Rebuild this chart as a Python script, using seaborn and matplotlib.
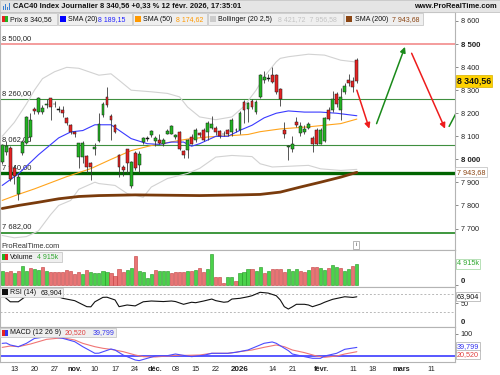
import numpy as np
import matplotlib
matplotlib.use("Agg")
import matplotlib.pyplot as plt
import matplotlib.transforms as mtrans
from matplotlib.patches import Rectangle
import seaborn as sns

# ---------------- data ----------------
opens = [7988, 8032, 8050, 7962, 7851, 8027, 8071, 8097, 8217, 8204,
         8204, 8235, 8265, 8240, 8218, 8213, 8178, 8148, 8119, 8009,
         8010, 8013, 7983, 8043, 8080, 8191, 8271, 8187, 8148, 8017,
         7967, 8043, 7883, 8026, 7974, 8075, 8088, 8104, 8078, 8083,
         8065, 8112, 8112, 8097, 8119, 8036, 8042, 8097, 8083, 8115,
         8126, 8119, 8138, 8135, 8122, 8110, 8126, 8119, 8128, 8126,
         8249, 8217, 8253, 8206, 8271, 8343, 8352, 8365, 8365, 8303,
         8126, 8052, 8046, 8162, 8114, 8120, 8138, 8094, 8126, 8068,
         8080, 8216, 8216, 8285, 8213, 8293, 8346, 8341, 8433]
highs = [8065, 8080, 8060, 7975, 7935, 8082, 8190, 8200, 8225, 8272,
         8235, 8260, 8268, 8252, 8230, 8230, 8185, 8152, 8125, 8072,
         8080, 8020, 7990, 8070, 8200, 8250, 8314, 8195, 8155, 8025,
         7975, 8045, 7995, 8035, 8035, 8095, 8100, 8126, 8100, 8110,
         8091, 8130, 8150, 8108, 8122, 8039, 8090, 8110, 8135, 8120,
         8135, 8165, 8190, 8145, 8128, 8122, 8132, 8178, 8134, 8210,
         8256, 8250, 8262, 8256, 8372, 8385, 8370, 8400, 8370, 8308,
         8160, 8062, 8100, 8183, 8160, 8150, 8160, 8100, 8135, 8135,
         8185, 8225, 8296, 8293, 8310, 8330, 8370, 8355, 8440]
lows = [7980, 8020, 7905, 7895, 7822, 8020, 8065, 8080, 8195, 8198,
        8198, 8222, 8170, 8228, 8205, 8185, 8150, 8110, 8095, 7961,
        7985, 7939, 7909, 8020, 8075, 8185, 8227, 8083, 8113, 7923,
        7930, 7940, 7874, 7955, 7940, 8065, 8080, 8098, 8060, 8065,
        8060, 8108, 8108, 8090, 8040, 8004, 8004, 8065, 8075, 8098,
        8078, 8085, 8130, 8105, 8092, 8100, 8100, 8100, 8120, 8110,
        8157, 8160, 8220, 8195, 8265, 8330, 8340, 8330, 8285, 8230,
        8091, 7996, 8030, 8140, 8100, 8110, 8130, 8030, 8062, 8065,
        8075, 8170, 8205, 8225, 8170, 8285, 8320, 8290, 8330]
closes = [8061, 8058, 7917, 7930, 7923, 8075, 8184, 8172, 8209, 8265,
          8221, 8240, 8226, 8238, 8216, 8200, 8157, 8119, 8109, 8070,
          8071, 7965, 7965, 8053, 8152, 8239, 8235, 8170, 8119, 7967,
          7952, 7983, 7990, 7961, 8022, 8091, 8090, 8122, 8093, 8071,
          8086, 8122, 8143, 8104, 8046, 8020, 8083, 8068, 8126, 8104,
          8083, 8157, 8152, 8119, 8100, 8108, 8109, 8170, 8126, 8200,
          8213, 8243, 8227, 8249, 8365, 8359, 8350, 8336, 8293, 8260,
          8109, 8057, 8065, 8148, 8143, 8130, 8152, 8065, 8065, 8126,
          8178, 8177, 8260, 8239, 8271, 8320, 8329, 8314, 8340.56]
volumes_k = [3354, 3120, 3354, 2886, 3354, 4524, 3354, 3900, 3666, 3510,
             4134, 3354, 2964, 2964, 3120, 2964, 3510, 3354, 2574, 2964,
             2574, 3510, 2964, 2730, 2730, 3354, 3120, 2886, 2184, 3744,
             3120, 3510, 3900, 6786, 3354, 2964, 1716, 2574, 3510, 3198,
             3198, 3198, 2730, 2964, 2964, 3120, 3354, 3354, 3510, 3900,
             3120, 3666, 7254, 1950, 1794, 546, 1950, 1794, 936, 2730,
             3120, 3666, 3666, 3276, 4134, 2886, 3354, 3744, 3744, 3744,
             2964, 3744, 3354, 3666, 3354, 3120, 3510, 4134, 4134, 3900,
             3510, 4056, 4680, 4290, 3900, 3354, 3744, 4446, 4915]
vol_dir = ("GRRGRGGRGG" "RGRRRRRRRR" "GRGGGGGRRR" "RGGRGGGGRG" "GGRRRRGRGR"
           "RGGRRRGGRG" "GGRGGRGRRR" "RGGGRRGRRG" "GRGGRGGRG")

sma20_idx = [0, 4, 9, 14, 17, 20, 23, 27, 29, 32, 36, 39, 42, 45, 47, 49, 53, 56, 59, 62, 65, 68, 71, 75, 79, 83, 88]
sma20_val = [7887, 7937, 8020, 8093, 8119, 8125, 8150, 8150, 8126, 8090, 8068, 8065, 8075, 8075, 8057, 8068,
             8100, 8100, 8126, 8148, 8180, 8200, 8210, 8205, 8205, 8200, 8189.15]
sma50_idx = [0, 4, 8, 16, 22, 27, 32, 37, 42, 46, 51, 56, 61, 64, 69, 76, 84, 88]
sma50_val = [7822, 7848, 7872, 7925, 7960, 8000, 8038, 8060, 8076, 8088, 8097, 8102, 8108, 8120, 8132, 8141, 8155, 8174.62]
sma200_idx = [0, 4, 9, 14, 19, 24, 33, 49, 59, 64, 69, 74, 79, 84, 88]
sma200_val = [7787, 7800, 7814, 7829, 7839, 7843, 7846, 7843, 7846, 7848, 7858, 7880, 7901, 7923, 7943.68]
bb_up_idx = [0, 3, 6, 8, 10, 13, 16, 19, 23, 24, 27, 29, 32, 37, 41, 44, 46, 49, 53, 57, 60, 63, 65, 68, 69, 71, 76, 80, 84, 88]
bb_up_val = [8100, 8160, 8240, 8300, 8350, 8380, 8399, 8395, 8371, 8365, 8371, 8343, 8300, 8293, 8286, 8271, 8227, 8184,
             8172, 8184, 8230, 8300, 8358, 8423, 8438, 8445, 8456, 8452, 8430, 8421.72]
bb_lo_idx = [0, 3, 6, 9, 12, 14, 17, 19, 23, 24, 28, 31, 35, 37, 41, 46, 49, 53, 57, 62, 64, 67, 71, 76, 79, 84, 88]
bb_lo_val = [7670, 7660, 7665, 7690, 7760, 7800, 7822, 7870, 7901, 7895, 7887, 7852, 7836, 7880, 7917, 7939, 7961,
             8010, 8017, 8012, 7981, 7967, 7970, 7974, 7959, 7952, 7956.58]

rsi_idx = [0, 2, 4, 6, 9, 12, 15, 18, 19, 21, 22, 23, 25, 26, 28, 29, 31, 33, 35, 37, 40, 42, 43, 45, 47, 48, 50,
           52, 53, 55, 56, 57, 59, 61, 62, 64, 66, 68, 69, 70, 71, 72, 73, 75, 76, 77, 79, 80, 82, 85, 87, 88]
rsi_val = [67.8, 53, 53, 66, 70, 70, 60.6, 55.4, 51, 42.3, 42, 53, 62.7, 63, 57, 42.3, 46, 44, 53, 54.7, 53.5, 54.7,
           53.5, 47.5, 52, 51, 54.7, 59, 55.5, 52, 53, 59, 60.6, 64, 66.3, 73.7, 72, 66.3, 57, 42.3, 37.2, 42, 47.5,
           47.5, 46, 42.3, 48, 52, 58.4, 64, 62.5, 63.904]
macd_idx = [0, 1, 2, 4, 6, 8, 11, 13, 15, 18, 20, 23, 24, 27, 28, 30, 33, 34, 36, 38, 41, 43, 45, 47, 50, 52, 56,
            58, 61, 62, 65, 67, 68, 71, 72, 75, 77, 79, 80, 83, 85, 88]
macd_val = [58, 59.6, 50.7, 43, 58, 80, 88, 86, 80.6, 65.5, 43, 13.4, 14, 32.7, 28, 5.8, -16.6, -19.5, -9, 1.3,
            2.8, 10.3, 4, -1.6, 4.3, 13.4, 13.4, 17.9, 28.3, 35.8, 58.3, 64.3, 58.3, 25.4, 10.3, -1.6, -9, -9, 1.3,
            13.4, 31.3, 39.799]
signal_idx = [0, 2, 4, 7, 11, 15, 18, 20, 23, 25, 27, 30, 33, 35, 38, 41, 43, 46, 49, 52, 56, 59, 62, 65, 68, 70,
              72, 75, 78, 80, 83, 85, 88]
signal_val = [40, 46, 43, 55, 76, 83, 73, 58, 43, 35.8, 31, 20.9, 5.8, -1.6, -3, 1.3, 4.3, 4.3, 5.8, 13.4, 13.4,
              20.9, 28.3, 40.3, 50.7, 43, 28.3, 16.4, 1.3, -4.6, 1.3, 10.3, 20.52]

levels = [8500, 8260, 8062, 7940, 7682]
level_labels = ["8 500,00", "8 260,00", "8 062,00", "7 940,00", "7 682,00"]
# arrows drawn on chart: (start index, start price, end index, end price, colour)
arrows = [(88, 8300, 91.1, 8133, "#ee1c1c"), (92.9, 8155, 99.95, 8488, "#1a8a1a"),
          (101.6, 8460, 109.9, 8133, "#ee1c1c")]
arrow_tail = (110.9, 8143, 112.8, 8206)

xtick_pos = [3, 8, 13, 18, 23, 28, 33, 38, 43, 48, 53, 59, 67, 72, 79.2, 87, 92, 99, 106.4]
xtick_lab = ["13", "20", "27", "nov.", "10", "17", "24", "déc.", "08", "15", "22", "2026",
             "14", "21", "févr.", "11", "18", "mars", "11"]
price_ticks = [7700, 7800, 7900, 8000, 8100, 8200, 8300, 8400, 8500, 8600]

# ---------------- style / layout ----------------
sns.set_theme(style="white")
plt.rcParams["font.family"] = ["Liberation Sans", "DejaVu Sans"]

W, H = 500, 375
fig = plt.figure(figsize=(5, 3.75), dpi=100)
fig.patch.set_facecolor("white")


def rect_px(x0, y0, x1, y1):
    return [x0 / W, 1 - y1 / H, (x1 - x0) / W, (y1 - y0) / H]


def fx(x):
    return x / W


def fy(y):
    return 1 - y / H


ax_p = fig.add_axes(rect_px(0, 12, 455, 250))
ax_v = fig.add_axes(rect_px(0, 250, 455, 287))
ax_r = fig.add_axes(rect_px(0, 287, 455, 326.5))
ax_m = fig.add_axes(rect_px(0, 326.5, 455, 362))
XL = (-0.546, 112.36)
for ax in (ax_p, ax_v, ax_r, ax_m):
    ax.set_xlim(*XL)
    ax.set_facecolor("white")
    for s in ax.spines.values():
        s.set_color("#b4b4b4")
        s.set_linewidth(0.8)
    ax.yaxis.tick_right()
    ax.tick_params(axis="y", length=2.5, width=0.6, color="#777777", labelsize=5.2, pad=1.5,
                   labelcolor="#222222")
    ax.tick_params(axis="x", length=0, labelbottom=False)
    ax.grid(False)

n = len(closes)
x = np.arange(n)

# ---------------- price panel ----------------
ax_p.set_ylim(7607, 8639)
ax_p.set_yticks(price_ticks)
ax_p.set_yticklabels([f"{v // 1000} {v % 1000:03d}" for v in price_ticks])
for lab, v in zip(ax_p.get_yticklabels(), price_ticks):
    if v in (8000, 8500):
        lab.set_fontweight("bold")
        lab.set_fontsize(5.6)

lvl_style = {8500: ("#f28b8b", 1.2), 8260: ("#3f8f3f", 0.8), 8062: ("#3f8f3f", 0.8),
             7940: ("#006400", 2.4), 7682: ("#2f8f2f", 1.3)}
bt = mtrans.blended_transform_factory(ax_p.transAxes, ax_p.transData)
for lv, lab in zip(levels, level_labels):
    c, lw = lvl_style[lv]
    ax_p.axhline(lv, color=c, lw=lw, zorder=1)
    ax_p.text(0.005, lv + 10, lab, transform=bt, fontsize=5.4, color="#222222",
              va="bottom", ha="left", zorder=1.5)

sns.lineplot(x=bb_up_idx, y=bb_up_val, ax=ax_p, color="#d2d2d2", linewidth=0.8, legend=False, zorder=2)
sns.lineplot(x=bb_lo_idx, y=bb_lo_val, ax=ax_p, color="#d2d2d2", linewidth=0.8, legend=False, zorder=2)
sns.lineplot(x=sma50_idx, y=sma50_val, ax=ax_p, color="#ffa41c", linewidth=0.8, legend=False, zorder=2.2)
sns.lineplot(x=sma20_idx, y=sma20_val, ax=ax_p, color="#3a3aff", linewidth=0.8, legend=False, zorder=2.3)
sns.lineplot(x=sma200_idx, y=sma200_val, ax=ax_p, color="#7a3b0c", linewidth=2.0, legend=False, zorder=2.4)

o = np.array(opens, float)
c = np.array(closes, float)
body_lo = np.minimum(o, c)
body_h = np.abs(c - o)
cols = []
for oo, cc in zip(o, c):
    if abs(cc - oo) <= 3:
        cols.append("#111111")
    elif cc > oo:
        cols.append("#22b422")
    else:
        cols.append("#e52323")
body_h = np.maximum(body_h, 2.5)
ax_p.vlines(x, lows, highs, color="#3a3a3a", lw=0.6, zorder=3)
ax_p.bar(x, body_h, bottom=body_lo, width=0.7, color=cols, edgecolor="#1a1a1a", linewidth=0.35, zorder=4)

for (x0, y0, x1, y1, col) in arrows:
    ax_p.annotate("", xy=(x1, y1), xytext=(x0, y0),
                  arrowprops=dict(arrowstyle="-|>", color=col, lw=1.1, mutation_scale=8,
                                  shrinkA=0, shrinkB=0), zorder=6)
ax_p.plot([arrow_tail[0], arrow_tail[2]], [arrow_tail[1], arrow_tail[3]], color="#1a8a1a", lw=1.1, zorder=6)

ax_p.text(1.004, closes[-1], "8 340,56", transform=bt, fontsize=6.3, fontweight="bold", va="center",
          ha="left", color="#111111", clip_on=False, zorder=10,
          bbox=dict(boxstyle="square,pad=0.15", fc="#ffd200", ec="#d8b000", lw=0.5))
ax_p.text(1.004, sma200_val[-1], "7 943,68", transform=bt, fontsize=5.2, va="center",
          ha="left", color="#8b4513", clip_on=False, zorder=10,
          bbox=dict(boxstyle="square,pad=0.2", fc="white", ec="#bbbbbb", lw=0.5))

# ---------------- volume panel ----------------
ax_v.set_ylim(-468, 8191)
vfill = ["#4ad24a" if d == "G" else "#e87474" for d in vol_dir]
vedge = ["#1f951f" if d == "G" else "#c23a3a" for d in vol_dir]
ax_v.bar(x, volumes_k, width=0.78, color=vfill, edgecolor=vedge, linewidth=0.4, zorder=3)
ax_v.set_yticks([0, 4915])
ax_v.set_yticklabels(["", ""])
btv = mtrans.blended_transform_factory(ax_v.transAxes, ax_v.transData)
ax_v.text(1.012, 0, "0", transform=btv, fontsize=5.6, fontweight="bold", va="bottom", ha="left",
          color="#222222", clip_on=False)
ax_v.text(1.004, 4915, "4 915k", transform=btv, fontsize=5.2, va="center", ha="left", color="#2fa82f",
          clip_on=False, zorder=10, bbox=dict(boxstyle="square,pad=0.15", fc="white", ec="#9bd49b", lw=0.5))

# ---------------- RSI panel ----------------
ax_r.set_ylim(-1, 85.3)
ax_r.axhline(70, color="#b8b8b8", lw=0.7, ls=(0, (2, 2)), zorder=1)
ax_r.axhline(30, color="#b8b8b8", lw=0.7, ls=(0, (2, 2)), zorder=1)
sns.lineplot(x=rsi_idx, y=rsi_val, ax=ax_r, color="#111111", linewidth=0.8, legend=False, zorder=3)
ax_r.set_yticks([50, 63.904])
ax_r.set_yticklabels(["50", ""])
btr = mtrans.blended_transform_factory(ax_r.transAxes, ax_r.transData)
ax_r.text(1.012, 0, "0", transform=btr, fontsize=5.6, fontweight="bold", va="bottom", ha="left",
          color="#222222", clip_on=False)
ax_r.text(1.004, 63.904, "63,904", transform=btr, fontsize=5.2, va="center", ha="left", color="#111111",
          clip_on=False, zorder=10, bbox=dict(boxstyle="square,pad=0.15", fc="white", ec="#aaaaaa", lw=0.5))

# ---------------- MACD panel ----------------
ax_m.set_ylim(-25.6, 133.6)
ax_m.axhline(0, color="#2a2aff", lw=1.1, zorder=1)
sns.lineplot(x=signal_idx, y=signal_val, ax=ax_m, color="#f07575", linewidth=0.8, legend=False, zorder=3)
sns.lineplot(x=macd_idx, y=macd_val, ax=ax_m, color="#4b4bff", linewidth=0.8, legend=False, zorder=3.1)
ax_m.set_yticks([100, 39.799, 20.52])
ax_m.set_yticklabels(["100", "", ""])
btm = mtrans.blended_transform_factory(ax_m.transAxes, ax_m.transData)
ax_m.text(1.004, 44, "39,799", transform=btm, fontsize=5.2, va="center", ha="left", color="#3333ee",
          clip_on=False, zorder=10, bbox=dict(boxstyle="square,pad=0.15", fc="white", ec="#aaaaaa", lw=0.5))
ax_m.text(1.004, 7, "20,520", transform=btm, fontsize=5.2, va="center", ha="left", color="#e04040",
          clip_on=False, zorder=10, bbox=dict(boxstyle="square,pad=0.15", fc="white", ec="#aaaaaa", lw=0.5))

ax_m.set_xticks(xtick_pos)
ax_m.set_xticklabels(xtick_lab)
ax_m.tick_params(axis="x", length=2, width=0.6, color="#999999", labelbottom=True, labelsize=5.2,
                 pad=1.2, labelcolor="#222222")
for lab in ax_m.get_xticklabels():
    t = lab.get_text()
    if t == "2026":
        lab.set_fontweight("bold")
        lab.set_fontsize(5.8)
    elif not t.isdigit():
        lab.set_fontweight("bold")
        lab.set_fontsize(5.3)

# ---------------- header & legends ----------------
fig.add_artist(Rectangle((0, fy(12)), 1, 12 / H, transform=fig.transFigure, fc="#e5e5e5",
                         ec="#c4c4c4", lw=0.6, zorder=5))
for bx, bh in [(2.5, 4), (4.5, 6), (6.5, 3), (8.5, 7)]:
    fig.add_artist(Rectangle((fx(bx), fy(10)), 1.3 / W, bh / H, transform=fig.transFigure,
                             fc="#3c7fd0", ec="none", zorder=6))
fig.text(fx(13), fy(6), "CAC40 Index Journalier 8 340,56 +0,33 % 12 févr. 2026, 17:35:01",
         fontsize=5.4, fontweight="bold", va="center", ha="left", color="#111111", zorder=7)
fig.text(fx(497), fy(6), "www.ProRealTime.com", fontsize=5.4, fontweight="bold", va="center",
         ha="right", color="#111111", zorder=7)


def legend_box(x0, x1, y0, y1, icon_cols, parts):
    fig.add_artist(Rectangle((fx(x0), fy(y1)), (x1 - x0) / W, (y1 - y0) / H, transform=fig.transFigure,
                             fc="#efefef", ec="#c8c8c8", lw=0.6, zorder=8))
    iw = 6.0 / len(icon_cols)
    for k, ic in enumerate(icon_cols):
        fig.add_artist(Rectangle((fx(x0 + 2 + k * iw), fy((y0 + y1) / 2 + 3)), iw / W, 6 / H,
                                 transform=fig.transFigure, fc=ic, ec="none", zorder=9))
    for (tx, txt, col) in parts:
        fig.text(fx(tx), fy((y0 + y1) / 2 + 0.3), txt, fontsize=5.0, color=col, va="center", ha="left",
                 zorder=10)


legend_box(0, 57, 13, 25, ["#e52323", "#22b422"], [(10, "Prix 8 340,56", "#111111")])
legend_box(58, 132, 13, 25, ["#0000ff"], [(68, "SMA (20)", "#111111"), (98, "8 189,15", "#2222ff")])
legend_box(133, 207, 13, 25, ["#ff9900"], [(143, "SMA (50)", "#111111"), (176, "8 174,62", "#ff9900")])
legend_box(208, 343, 13, 25, ["#cccccc"], [(218, "Bollinger (20 2,5)", "#111111"),
                                             (278, "8 421,72  7 956,58", "#c4c4c4")])
legend_box(344, 423, 13, 25, ["#8b4513"], [(355, "SMA (200)", "#111111"), (392, "7 943,68", "#8b4513")])

legend_box(0, 62, 252, 262, ["#22b422", "#e52323"], [(10, "Volume", "#111111"), (37, "4 915k", "#2fa82f")])
legend_box(0, 63, 287.5, 296.5, ["#111111"], [(10, "RSI (14)", "#111111"), (41, "63,904", "#111111")])
legend_box(0, 116, 328, 337, ["#e52323", "#3333ee"], [(10, "MACD (12 26 9)", "#111111"),
                                                      (65, "20,520", "#e04040"), (93, "39,799", "#3333ee")])

fig.text(fx(1), fy(246), "ProRealTime.com", fontsize=5.3, va="center", ha="left", color="#333333", zorder=8)
fig.text(fx(356), fy(245), "i", fontsize=4.5, va="center", ha="center", color="#555555", zorder=8,
         bbox=dict(boxstyle="square,pad=0.3", fc="white", ec="#999999", lw=0.5))

fig.savefig("out.png", dpi=100)
